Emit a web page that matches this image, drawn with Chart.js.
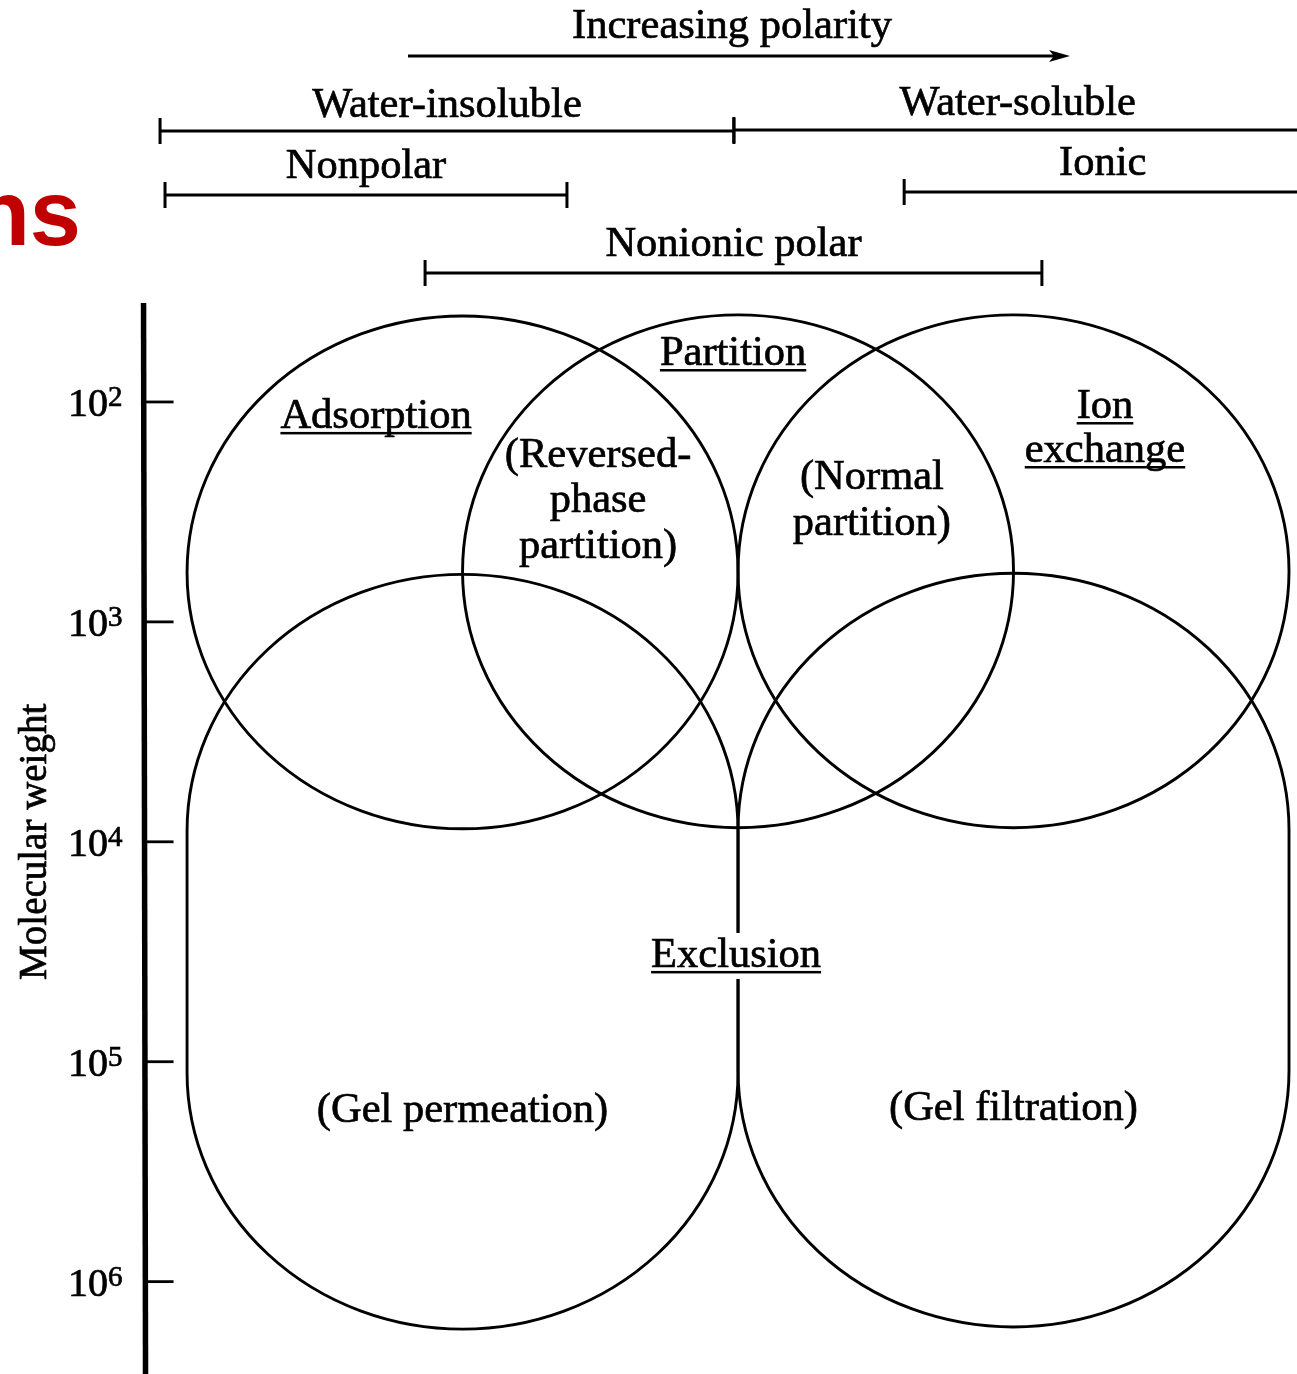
<!DOCTYPE html>
<html>
<head>
<meta charset="utf-8">
<script src="https://cdn.jsdelivr.net/npm/chart.js@4.4.0/dist/chart.umd.min.js"></script>
<style>
  html, body { margin: 0; padding: 0; background: #fff; }
  canvas { display: block; }
</style>
</head>
<body>
<canvas id="chart" width="1297" height="1374"></canvas>
<script>
// y: log10 of molecular weight, small molecules at the top
var mwTicks = [2, 3, 4, 5, 6];

// the three upper methods (x = polarity position, y = log10 MW of centre)
var techniques = ['Adsorption', 'Partition', 'Ion exchange'];
var techPolarity = [1, 2, 3];
var techLogMW = [2.775, 2.77, 2.77];
var halfSpan = 1;          // half width, polarity units
var halfDecades = 1.166;   // half height, decades

// sub-modes of partition (split into lines as printed)
var partitionModes = [['(Reversed-', 'phase', 'partition)'], ['(Normal', 'partition)']];
var partitionModeX = [1.492, 2.486];

// exclusion shapes
var gelModes = ['(Gel permeation)', '(Gel filtration)'];
var gelPolarity = [1, 3];
var gelTop = [3.95, 3.945];
var gelBottom = [5.05, 5.04];

// polarity ranges above the plot
var rangeNames = ['Water-insoluble', 'Water-soluble', 'Nonpolar', 'Ionic', 'Nonionic polar'];
var rangeFrom = [-0.098, 1.985, -0.08, 2.603, 0.864];
var rangeTo = [1.985, 4.1, 1.379, 4.1, 3.103];
var arrowFrom = 0.802, arrowTo = 3.205;

var SERIF = "'Liberation Serif', 'Times New Roman', serif";

// text a little heavier than the plain face, like the printed figure
function ink(ctx, s, px, py) {
    ctx.fillText(s, px, py);
    ctx.lineWidth = 0.7;
    ctx.strokeText(s, px, py);
}

function text(ctx, s, px, py, underline, bg) {
    ctx.font = '42.5px ' + SERIF;
    ctx.textAlign = 'center';
    ctx.textBaseline = 'alphabetic';
    var w = ctx.measureText(s).width;
    if (bg) {
        ctx.fillStyle = '#fff';
        ctx.fillRect(px - w / 2 - 4, py - 34, w + 8, 46);
    }
    ctx.fillStyle = '#000';
    ink(ctx, s, px, py);
    if (underline) {
        ctx.fillRect(px - w / 2, py + 4, w, 2.5);
    }
}

var diagram = {
    id: 'diagram',
    afterDatasetsDraw: function(chart) {
        var ctx = chart.ctx, xs = chart.scales.x, ys = chart.scales.y, area = chart.chartArea;
        var X = function(v){ return xs.getPixelForValue(v); };
        var Y = function(v){ return ys.getPixelForValue(v); };
        var rx = X(halfSpan) - X(0);
        var ry = Y(halfDecades) - Y(0);
        ctx.save();
        ctx.strokeStyle = '#000';
        ctx.fillStyle = '#000';
        ctx.lineCap = 'butt';

        // red title fragment cut at the left edge
        ctx.font = 'bold 92px "Liberation Sans", Arial, sans-serif';
        ctx.fillStyle = '#c00000';
        ctx.textAlign = 'right';
        ctx.fillText('ns', 81, 245);
        ctx.fillStyle = '#000';

        // circles
        ctx.lineWidth = 2.9;
        techniques.forEach(function(t, i){
            ctx.beginPath();
            ctx.ellipse(X(techPolarity[i]), Y(techLogMW[i]), rx, ry, 0, 0, Math.PI * 2);
            ctx.stroke();
        });
        // exclusion stadiums
        gelModes.forEach(function(g, i){
            var cx = X(gelPolarity[i]), t = Y(gelTop[i]), b = Y(gelBottom[i]);
            ctx.beginPath();
            ctx.ellipse(cx, t, rx, ry, 0, Math.PI, Math.PI * 2);
            ctx.lineTo(cx + rx, b);
            ctx.ellipse(cx, b, rx, ry, 0, 0, Math.PI);
            ctx.closePath();
            ctx.stroke();
        });

        // y axis
        var ax = X(-0.158);
        ctx.lineWidth = 5.5;
        ctx.beginPath();
        ctx.moveTo(ax, area.top);
        ctx.lineTo(ax + 2, area.bottom);
        ctx.stroke();
        mwTicks.forEach(function(e){
            var py = Y(e);
            ctx.lineWidth = 2.8;
            ctx.beginPath();
            ctx.moveTo(ax, py);
            ctx.lineTo(ax + 30, py);
            ctx.stroke();
            ctx.textAlign = 'right';
            ctx.font = '40px ' + SERIF;
            ink(ctx, '10', 108, py + 14);
            ctx.textAlign = 'left';
            ctx.font = '29px ' + SERIF;
            ink(ctx, String(e), 108, py + 4);
        });
        ctx.save();
        ctx.translate(46, Y(4.0));
        ctx.rotate(-Math.PI / 2);
        ctx.font = '39px ' + SERIF;
        ctx.textAlign = 'center';
        ink(ctx, 'Molecular weight', 0, 0);
        ctx.restore();

        // polarity ranges
        var rowY = [131, 130, 195, 192, 273];
        var labelY = [117, 115, 178, 175, 256];
        var edge = X(4.045);
        rangeNames.forEach(function(n, i){
            var a = X(rangeFrom[i]), b = X(rangeTo[i]);
            ctx.lineWidth = 3;
            ctx.beginPath();
            ctx.moveTo(a, rowY[i]); ctx.lineTo(b, rowY[i]);
            ctx.moveTo(a, rowY[i] - 13); ctx.lineTo(a, rowY[i] + 13);
            if (rangeTo[i] < 4) { ctx.moveTo(b, rowY[i] - 13); ctx.lineTo(b, rowY[i] + 13); }
            ctx.stroke();
            text(ctx, n, (a + Math.min(b, edge)) / 2, labelY[i]);
        });
        // arrow
        var a0 = X(arrowFrom), a1 = X(arrowTo);
        ctx.lineWidth = 3;
        ctx.beginPath();
        ctx.moveTo(a0, 56); ctx.lineTo(a1 - 10, 56);
        ctx.stroke();
        ctx.beginPath();
        ctx.moveTo(a1, 56); ctx.lineTo(a1 - 21, 50); ctx.lineTo(a1 - 16, 56); ctx.lineTo(a1 - 21, 62);
        ctx.closePath();
        ctx.fill();
        text(ctx, 'Increasing polarity', (a0 + a1) / 2 - 7, 38);

        // method labels
        text(ctx, techniques[0], X(0.686), Y(2.118), true);
        text(ctx, techniques[1], X(1.982), Y(1.832), true);
        var ion = techniques[2].split(' ');
        text(ctx, ion[0], X(3.332), Y(2.073), true);
        text(ctx, ion[1], X(3.332), Y(2.273), true);
        var lineY = [[2.296, 2.5, 2.71], [2.396, 2.605]];
        partitionModes.forEach(function(lines, i){
            lines.forEach(function(s, j){ text(ctx, s, X(partitionModeX[i]), Y(lineY[i][j])); });
        });
        text(ctx, 'Exclusion', X(1.993), Y(4.569), true, true);
        text(ctx, gelModes[0], X(gelPolarity[0]), Y(5.274));
        text(ctx, gelModes[1], X(gelPolarity[1]), Y(5.265));
        ctx.restore();
    }
};

var ctx = document.getElementById('chart').getContext('2d');
var chart = new Chart(ctx, {
    type: 'scatter',
    data: {
        datasets: [
            { label: 'methods', data: techPolarity.map(function(p, i){ return { x: p, y: techLogMW[i] }; }), pointRadius: 0 },
            { label: 'exclusion', data: gelPolarity.map(function(p, i){ return { x: p, y: (gelTop[i] + gelBottom[i]) / 2 }; }), pointRadius: 0 }
        ]
    },
    options: {
        responsive: false,
        animation: false,
        devicePixelRatio: 1,
        layout: { padding: { top: 303, left: 0, right: 0, bottom: 0 } },
        plugins: { legend: { display: false }, tooltip: { enabled: false } },
        scales: {
            x: { type: 'linear', display: false, min: -0.679, max: 4.029 },
            y: { type: 'linear', display: false, reverse: true, min: 1.55, max: 6.42 }
        }
    },
    plugins: [diagram]
});
</script>
</body>
</html>
